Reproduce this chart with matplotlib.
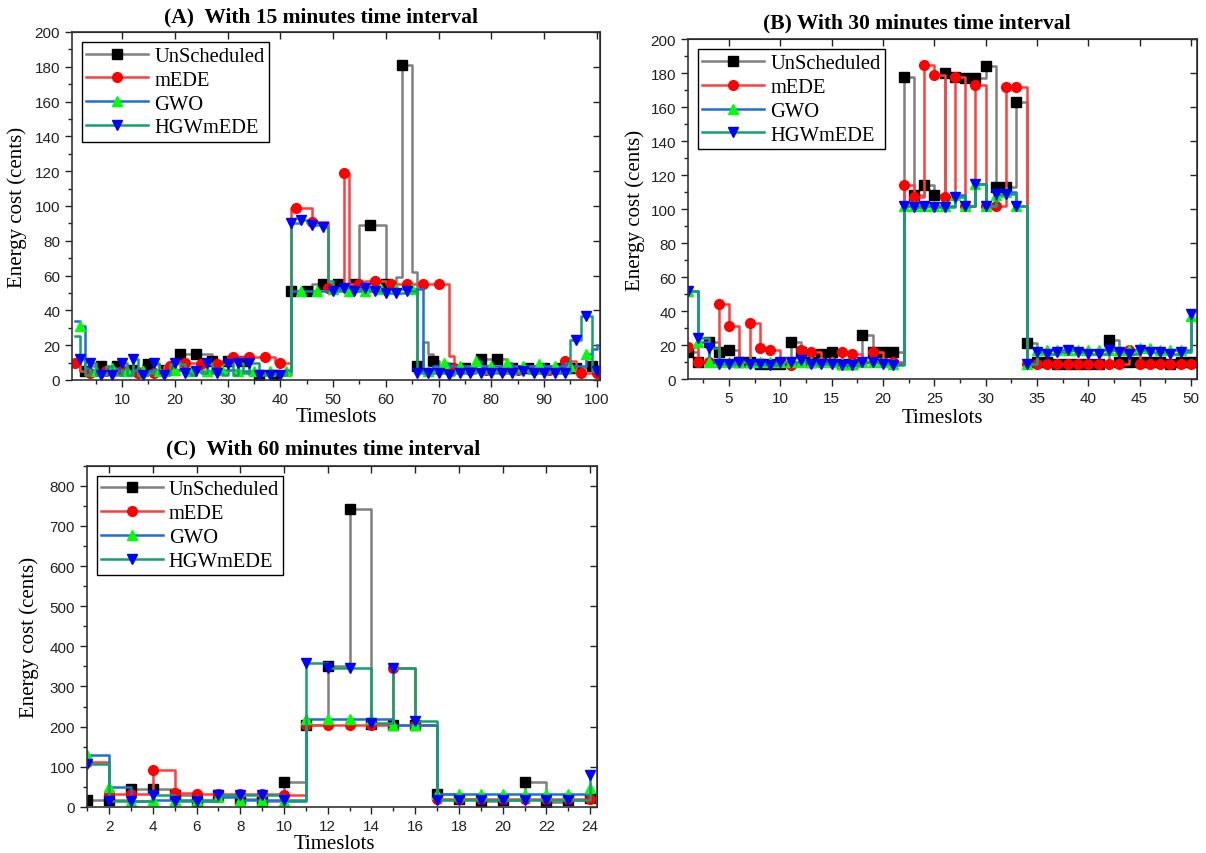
import numpy as np
import matplotlib.pyplot as plt
import matplotlib.ticker as mticker

plt.rcParams['font.family'] = 'Liberation Sans'
SERIF = 'Liberation Serif'

labels = ['UnScheduled', 'mEDE', 'GWO', 'HGWmEDE']

# (A) 15 minute time interval, 100 slots
slots_a = np.arange(1, 101)
unsched_a = [9, 5, 5, 8, 8, 8, 7, 8, 8, 8,
             6, 6, 7, 9, 9, 9, 7, 6, 6, 6,
             15, 15, 15, 15, 15, 15, 11, 11, 11, 11,
             11, 11, 11, 3, 3, 3, 3, 3, 3, 3,
             3, 51, 51, 51, 51, 55, 55, 55, 55, 55,
             55, 55, 55, 55, 89, 89, 89, 89, 89, 55,
             55, 59, 181, 181, 62, 8, 22, 15, 11, 7,
             7, 7, 7, 7, 7, 7, 12, 12, 12, 12,
             12, 12, 7, 7, 7, 7, 7, 7, 7, 7,
             7, 7, 7, 7, 7, 7, 7, 7, 8, 8]
mede_a = [10, 5, 5, 4, 4, 5, 5, 4, 4, 5,
          5, 4, 4, 5, 5, 4, 6, 8, 8, 10,
          10, 10, 10, 10, 9, 9, 9, 9, 9, 14,
          13, 13, 13, 13, 13, 13, 13, 13, 10, 10,
          10, 99, 99, 99, 99, 91, 91, 91, 53, 53,
          53, 119, 55, 55, 55, 57, 57, 57, 57, 55,
          55, 55, 55, 55, 55, 55, 55, 55, 55, 55,
          55, 14, 7, 6, 6, 6, 6, 6, 6, 6,
          6, 6, 6, 6, 6, 6, 6, 6, 6, 6,
          6, 6, 6, 11, 11, 4, 4, 4, 4, 4]
gwo_a = [34, 31, 7, 6, 5, 5, 5, 7, 5, 5,
         5, 6, 6, 5, 5, 5, 5, 5, 5, 6,
         6, 6, 5, 5, 5, 5, 5, 5, 6, 6,
         6, 5, 5, 5, 5, 5, 5, 5, 5, 5,
         5, 51, 51, 51, 51, 51, 51, 51, 51, 52,
         52, 51, 51, 51, 51, 51, 51, 51, 52, 52,
         52, 52, 52, 52, 52, 52, 5, 5, 8, 8,
         10, 8, 8, 8, 8, 8, 11, 8, 8, 8,
         8, 8, 10, 8, 8, 8, 8, 8, 9, 8,
         8, 8, 8, 10, 8, 8, 8, 15, 18, 20]
hgw_a = [25, 12, 3, 10, 3, 3, 8, 3, 3, 10,
         3, 12, 3, 3, 4, 10, 4, 3, 9, 10,
         9, 4, 3, 5, 4, 10, 4, 4, 3, 9,
         3, 10, 4, 10, 10, 3, 4, 3, 4, 3,
         6, 90, 90, 92, 90, 89, 89, 88, 57, 51,
         51, 53, 53, 51, 52, 53, 51, 51, 51, 50,
         50, 50, 50, 51, 51, 4, 4, 4, 4, 4,
         4, 3, 4, 4, 4, 4, 5, 4, 4, 4,
         5, 4, 4, 4, 4, 5, 4, 4, 4, 4,
         5, 4, 4, 4, 23, 23, 37, 37, 5, 5]

# (B) 30 minute time interval, 50 slots
slots_b = np.arange(1, 51)
unsched_b = [16, 10, 22, 16, 17, 10, 10, 9, 9, 9,
             22, 16, 10, 15, 16, 9, 9, 26, 16, 16,
             16, 178, 108, 114, 108, 180, 178, 177, 177, 184,
             113, 113, 163, 21, 10, 10, 9, 9, 9, 9,
             9, 23, 10, 10, 10, 10, 10, 9, 10, 10]
mede_b = [19, 10, 10, 44, 31, 10, 33, 18, 17, 10,
          8, 17, 16, 10, 10, 16, 15, 10, 16, 10,
          10, 114, 107, 185, 179, 107, 178, 102, 173, 102,
          102, 172, 172, 9, 9, 9, 9, 9, 9, 9,
          9, 9, 9, 17, 9, 9, 9, 9, 9, 9]
gwo_b = [52, 22, 10, 10, 10, 10, 10, 10, 10, 10,
         10, 10, 10, 10, 10, 9, 9, 10, 10, 10,
         9, 102, 102, 102, 102, 102, 108, 102, 115, 102,
         108, 110, 102, 9, 17, 17, 17, 17, 17, 17,
         17, 17, 17, 17, 18, 18, 17, 17, 17, 37]
hgw_b = [52, 24, 18, 9, 9, 10, 9, 9, 8, 10,
         10, 11, 9, 9, 9, 8, 8, 10, 10, 9,
         8, 102, 101, 102, 101, 101, 107, 102, 115, 102,
         109, 109, 102, 9, 16, 15, 16, 17, 16, 15,
         15, 17, 16, 15, 17, 16, 16, 15, 16, 38]

# (C) 60 minute time interval, 24 slots
slots_c = np.arange(1, 25)
unsched_c = [18, 18, 45, 45, 30, 15, 30, 20, 15, 63, 203, 351,
             742, 207, 205, 205, 32, 20, 15, 18, 62, 13, 17, 22]
mede_c = [113, 33, 33, 93, 34, 33, 33, 33, 33, 30, 205, 205,
          205, 205, 345, 205, 20, 20, 20, 20, 20, 20, 20, 20]
gwo_c = [130, 50, 15, 18, 18, 18, 25, 18, 18, 15, 218, 218,
         218, 218, 205, 205, 33, 33, 33, 33, 33, 33, 33, 47]
hgw_c = [108, 15, 15, 30, 15, 15, 30, 30, 30, 18, 358, 345,
         345, 210, 345, 215, 17, 17, 17, 17, 17, 17, 17, 80]

line_colors = ['#808080', '#FF3D3D', '#1C70D8', '#12A06E']
marker_colors = ['#000000', '#FF0000', '#00FF00', '#0000FF']
markers = ['s', 'o', '^', 'v']


def draw_panel(rect, x, series, mark_every, xlim, ylim, xmaj, xmin, ymaj, ymin,
               title, title_xy, ylab_x, xlab_xy):
    ax = fig.add_axes(rect)
    for y, lab, lc, mc, mk, me in zip(series, labels, line_colors,
                                      marker_colors, markers, mark_every):
        ax.plot(x, y, drawstyle='steps-post', color=lc, lw=1.8,
                marker=mk, ms=7, mfc=mc, mec=mc, markevery=me, label=lab)
    ax.set_xlim(xlim)
    ax.set_ylim(ylim)
    ax.xaxis.set_major_locator(mticker.MultipleLocator(xmaj))
    ax.xaxis.set_minor_locator(mticker.MultipleLocator(xmin))
    ax.yaxis.set_major_locator(mticker.MultipleLocator(ymaj))
    ax.yaxis.set_minor_locator(mticker.MultipleLocator(ymin))
    ax.tick_params(which='major', direction='out', length=5, width=1,
                   labelsize=11, colors='#222222')
    ax.tick_params(which='minor', direction='out', length=3, width=1,
                   colors='#222222')
    for s in ax.spines.values():
        s.set_linewidth(1.2)
        s.set_color('#333333')

    # inward ticks on the top and right frame
    top = ax.secondary_xaxis('top')
    top.xaxis.set_major_locator(mticker.MultipleLocator(xmaj))
    top.tick_params(direction='in', length=5, width=1, labeltop=False,
                    colors='#222222')
    right = ax.secondary_yaxis('right')
    right.yaxis.set_major_locator(mticker.MultipleLocator(ymaj))
    right.tick_params(direction='in', length=5, width=1, labelright=False,
                      colors='#222222')

    ax.set_xlabel('Timeslots', family=SERIF, fontsize=15)
    ax.set_ylabel('Energy cost (cents)', family=SERIF, fontsize=15)
    ax.yaxis.set_label_coords(ylab_x, 0.5)
    ax.xaxis.set_label_coords(*xlab_xy)

    leg = ax.legend(loc='upper left', fancybox=False, edgecolor='black',
                    framealpha=1, prop={'family': SERIF, 'size': 14.8},
                    handlelength=3, borderpad=0.2, labelspacing=0.22,
                    handletextpad=0.3, borderaxespad=0.5, numpoints=1)
    leg.get_frame().set_linewidth(1.0)

    fig.text(title_xy[0], title_xy[1], title, family=SERIF, weight='bold',
             fontsize=15.5, ha='center', va='center')
    return ax


fig = plt.figure(figsize=(12.06, 8.54), dpi=100)

draw_panel([0.0597, 0.5539, 0.4378, 0.4075], slots_a,
           [unsched_a, mede_a, gwo_a, hgw_a],
           [(2, 3), (0, 3), (1, 3), (1, 2)],
           (0.5, 100.6), (0, 200), 10, 5, 20, 10,
           '(A)  With 15 minutes time interval', (0.266, 0.980),
           -0.085, (0.5, -0.078))

draw_panel([0.5705, 0.555, 0.4221, 0.398], slots_b,
           [unsched_b, mede_b, gwo_b, hgw_b],
           [1, 1, 1, 1],
           (1, 50.6), (0, 200), 5, 2.5, 20, 10,
           '(B) With 30 minutes time interval', (0.760, 0.973),
           -0.085, (0.5, -0.085))

draw_panel([0.0719, 0.0539, 0.4229, 0.3997], slots_c,
           [unsched_c, mede_c, gwo_c, hgw_c],
           [1, 1, 1, 1],
           (0.98, 24.3), (0, 850), 2, 1, 100, 50,
           '(C)  With 60 minutes time interval', (0.268, 0.474),
           -0.094, (0.486, -0.079))

fig.savefig('out.png', dpi=100)
